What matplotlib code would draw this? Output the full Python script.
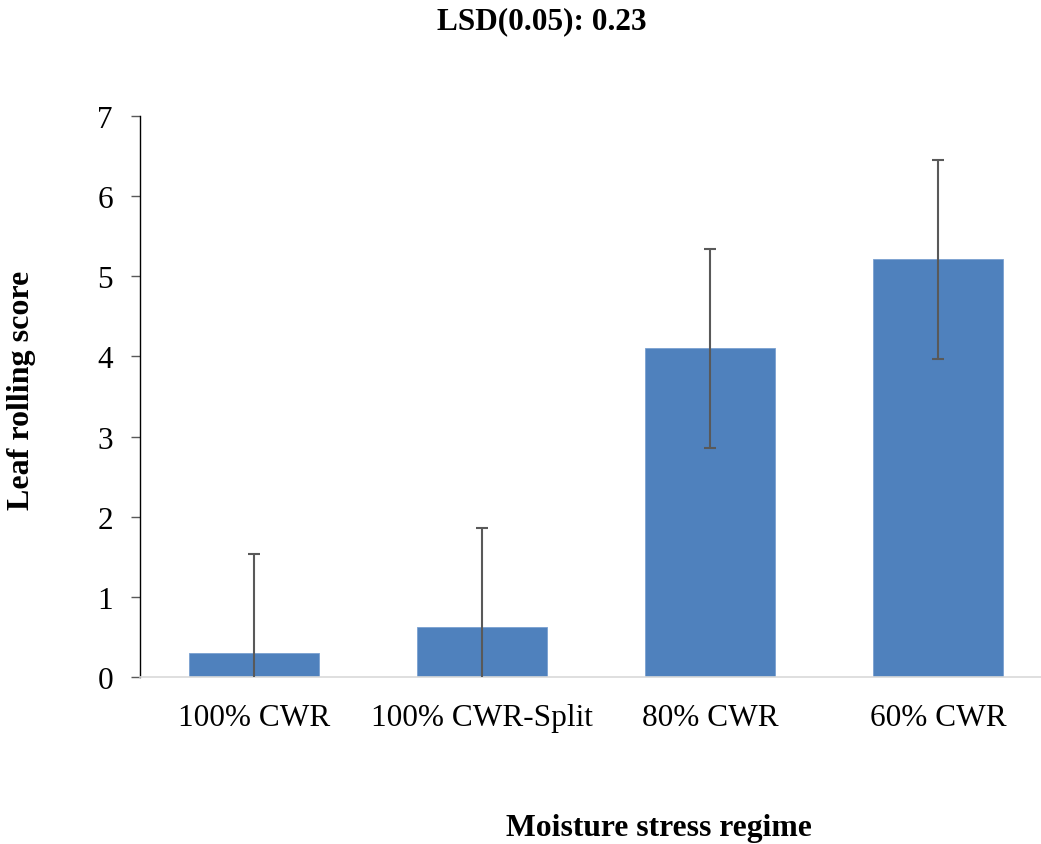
import matplotlib
matplotlib.use("Agg")
import matplotlib.pyplot as plt

# Leaf rolling score by moisture stress regime
regimes = ["100% CWR", "100% CWR-Split", "80% CWR", "60% CWR"]
scores = [0.30, 0.62, 4.10, 5.21]
errors = [1.23, 1.24, 1.24, 1.24]
y_ticks = [0, 1, 2, 3, 4, 5, 6, 7]

plt.rcParams["font.family"] = ["Liberation Serif", "DejaVu Serif"]

W, H = 1041, 845
fig = plt.figure(figsize=(W / 100, H / 100), dpi=100)
ax = fig.add_axes([140 / W, (H - 678) / H, 912 / W, (678 - 117) / H])

x = list(range(len(regimes)))
ax.bar(x, scores, width=0.57, color="#4F81BD", edgecolor="#7aa0d0",
       linewidth=0.6, zorder=2)
ax.errorbar(x, scores, yerr=errors, fmt="none", ecolor="#595959",
            elinewidth=1.5, capsize=4.3, capthick=1.5, zorder=3)

ax.set_xlim(-0.5, len(regimes) - 0.5)
ax.set_ylim(0, 7)
ax.set_yticks(y_ticks)
ax.set_xticks(x)
ax.set_xticklabels(regimes)

ax.tick_params(axis="x", length=0, pad=19, labelsize=22.5)
ax.tick_params(axis="y", length=6.5, width=1, color="#595959",
               pad=13, labelsize=22.5)

for s in ("top", "right"):
    ax.spines[s].set_visible(False)
ax.spines["bottom"].set_color("#d9d9d9")
ax.spines["bottom"].set_linewidth(1.2)
ax.spines["left"].set_color("#000000")
ax.spines["left"].set_linewidth(1.0)

fig.text(542 / W, 1 - 22 / H, "LSD(0.05): 0.23", ha="center", va="center",
         fontsize=22.5, fontweight="bold")
fig.text(659 / W, 1 - 829 / H, "Moisture stress regime", ha="center",
         va="center", fontsize=22.8, fontweight="bold")
fig.text(22 / W, 1 - 390 / H, "Leaf rolling score", ha="center",
         va="center", rotation=90, fontsize=23, fontweight="bold")

fig.savefig("out.png", dpi=100)
